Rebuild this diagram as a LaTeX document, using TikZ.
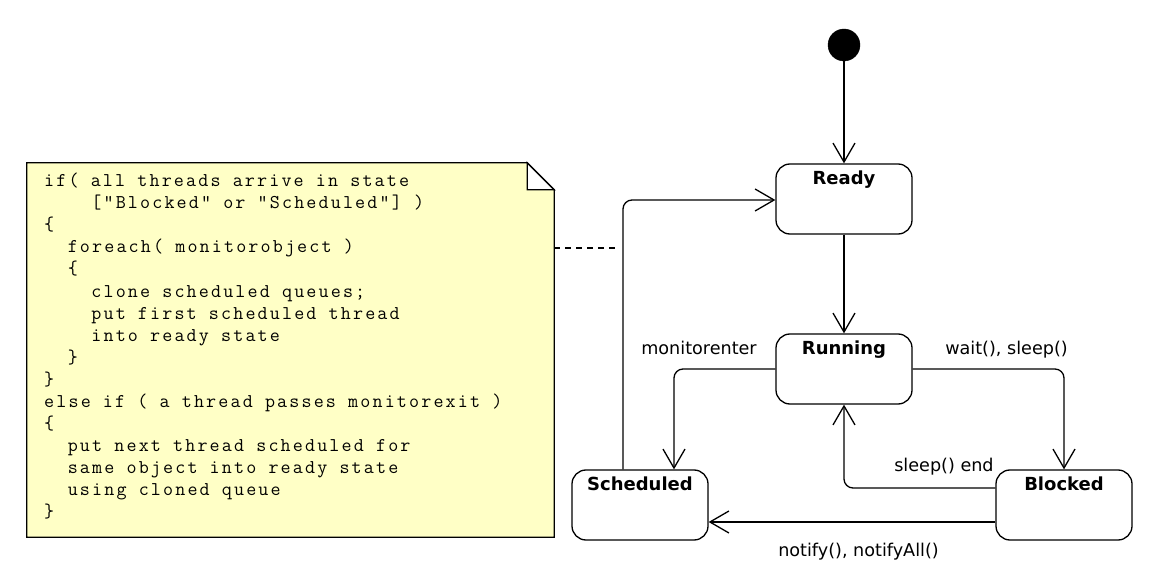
\documentclass[tikz,border=0pt]{standalone}
\usepackage{fontspec}
\setmainfont{DejaVu Sans}
\newfontfamily\codefont{Latin Modern Mono}[LetterSpace=11]
\usetikzlibrary{arrows.meta}
\definecolor{notefill}{RGB}{255,255,198}
\newcommand\ind[1]{\hspace*{#1\dimexpr 11.8pt\relax}}
\tikzset{
  statebox/.style={draw, line width=1.3pt, rounded corners=14pt, minimum width=136pt, minimum height=70pt, inner sep=0pt, fill=white},
  statelbl/.style={font=\fontsize{18}{22}\selectfont\bfseries, inner sep=0pt, anchor=base},
  initdot/.style={circle, fill=black, draw=black, minimum size=32pt, inner sep=0pt},
  tr/.style={line width=1.3pt, rounded corners=9pt, -{Straight Barb[length=19pt, width=22pt, line width=1.3pt]}},
  trlbl/.style={font=\fontsize{17.6}{21}\selectfont, inner sep=0pt, anchor=base},
  codeline/.style={font=\codefont\fontsize{19.5}{22}\selectfont, inner sep=0pt, anchor=base west},
  notebox/.style={minimum width=527pt, minimum height=374pt, inner sep=0pt},
  anchorline/.style={line width=1.3pt, dash pattern=on 6pt off 5pt}
}
\begin{document}
\begin{tikzpicture}[x=1pt, y=-1pt]
\useasboundingbox (0,0) rectangle (1163,580);

% note
\node[notebox] (note) at (290.5,350) {};
\draw[line width=1.3pt, fill=notefill, line join=miter]
  (note.north west) -- ([xshift=-27pt]note.north east) -- ([yshift=-27pt]note.north east)
  -- (note.south east) -- (note.south west) -- cycle;
\draw[line width=1.3pt, fill=white, line join=miter]
  ([xshift=-27pt]note.north east) -- ([yshift=-27pt]note.north east)
  -- ([xshift=-27pt,yshift=-27pt]note.north east) -- cycle;

\node[codeline] (c1)  at (44,186.7) {if( all threads arrive in state};
\node[codeline] (c2)  at (44,208.8) {\ind{4}["Blocked" or "Scheduled"] )};
\node[codeline] (c3)  at (44,230.8) {\{};
\node[codeline] (c4)  at (44,252.9) {\ind{2}foreach( monitorobject )};
\node[codeline] (c5)  at (44,275.0) {\ind{2}\{};
\node[codeline] (c6)  at (44,297.1) {\ind{4}clone scheduled queues;};
\node[codeline] (c7)  at (44,319.1) {\ind{4}put first scheduled thread};
\node[codeline] (c8)  at (44,341.2) {\ind{4}into ready state};
\node[codeline] (c9)  at (44,363.3) {\ind{2}\}};
\node[codeline] (c10) at (44,385.3) {\}};
\node[codeline] (c11) at (44,407.4) {else if ( a thread passes monitorexit )};
\node[codeline] (c12) at (44,429.5) {\{};
\node[codeline] (c13) at (44,451.5) {\ind{2}put next thread scheduled for};
\node[codeline] (c14) at (44,473.6) {\ind{2}same object into ready state};
\node[codeline] (c15) at (44,495.7) {\ind{2}using cloned queue};
\node[codeline] (c16) at (44,517.8) {\}};

% states
\node[initdot] (init) at (844,45) {};
\node[statebox, label={[statelbl, yshift=-21pt]north:Ready}] (ready) at (844,199) {};
\node[statebox, label={[statelbl, yshift=-21pt]north:Running}] (running) at (844,369) {};
\node[statebox, label={[statelbl, yshift=-21pt]north:Scheduled}] (sched) at (640,505) {};
\node[statebox, label={[statelbl, yshift=-21pt]north:Blocked}] (blocked) at (1064,505) {};

% transitions
\draw[tr] (init) -- (ready);
\draw[tr] (ready) -- (running);
\draw[tr] (running.west) -| ([xshift=34pt]sched.north);
\draw[tr] (running.east) -| (blocked.north);
\draw[tr] ([yshift=17pt]blocked.west) -| (running.south);
\draw[tr] ([yshift=-17pt]blocked.west) -- ([yshift=-17pt]sched.east);
\draw[tr] ([xshift=-17pt]sched.north) |- ([yshift=-1pt]ready.west);

% anchor of note
\coordinate (noteend) at (616,248);
\draw[anchorline] (note.east |- noteend) -- (noteend);

% labels
\node[trlbl] (lmon) at (699,354) {monitorenter};
\node[trlbl] (lwait) at (1006.5,354) {wait(), sleep()};
\node[trlbl] (lsleep) at (944,471) {sleep() end};
\node[trlbl] (lnotify) at (858.5,556) {notify(), notifyAll()};
\end{tikzpicture}
\end{document}
